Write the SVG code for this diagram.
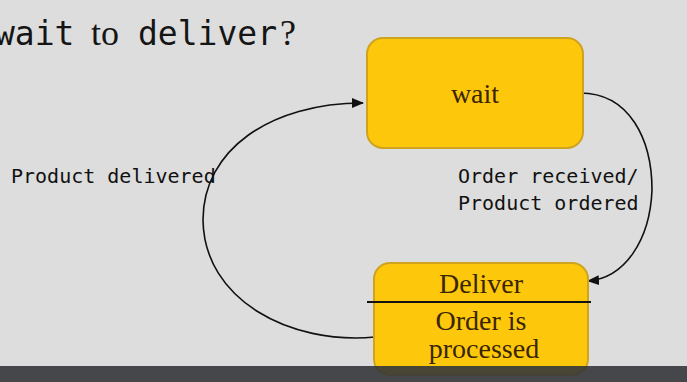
<svg xmlns="http://www.w3.org/2000/svg" width="687" height="382" viewBox="0 0 687 382">
<style>
.box{fill:#fdc80c;stroke:#cfa31e;stroke-width:2}
.st{font-family:"Liberation Serif",serif;font-size:28px;fill:#3a2500;text-anchor:middle}
.mono{font-family:"DejaVu Sans Mono","Liberation Mono",monospace;font-size:20px;fill:#111}
.ttl{font-family:"DejaVu Sans Mono","Liberation Mono",monospace;font-size:33px;fill:#151515}
.ttls{font-family:"Liberation Serif",serif;font-size:36px;fill:#151515}
.conn{fill:none;stroke:#111;stroke-width:1.6}
</style>
<defs>
<marker id="ah" viewBox="0 0 12 10" refX="11" refY="5" markerWidth="12" markerHeight="10" markerUnits="userSpaceOnUse" orient="auto">
<path d="M0,0 L12,5 L0,10 Z" fill="#111"/>
</marker>
</defs>
<rect width="687" height="382" fill="#dddddd"/>
<g id="title">
<text class="ttl" x="-5" y="45">wait</text>
<text class="ttls" x="91" y="45">to</text>
<text class="ttl" x="138" y="45">deliver</text>
<text class="ttls" x="280" y="45">?</text>
</g>
<g id="connectors">
<path class="conn" d="M375,337 C290,345 204,300 203,220 C203,150 270,103 363,103" marker-end="url(#ah)"/>
<path class="conn" d="M580,93 C630,93 652,140 652,190 C650,240 625,278 588,281" marker-end="url(#ah)"/>
<text class="mono" x="11" y="183">Product delivered</text>
<text class="mono" x="458" y="183">Order received/</text>
<text class="mono" x="458" y="210">Product ordered</text>
</g>
<g id="wait">
<rect class="box" x="367" y="38" width="216" height="110" rx="16"/>
<text class="st" x="475" y="103">wait</text>
</g>
<g id="deliver">
<rect class="box" x="374" y="263" width="214" height="112" rx="16"/>
<line x1="367" y1="302" x2="591" y2="302" stroke="#111" stroke-width="2"/>
<text class="st" x="481" y="293">Deliver</text>
<text class="st" x="481" y="330">Order is</text>
<text class="st" x="484" y="358">processed</text>
</g>
<rect x="0" y="366" width="687" height="16" fill="#35363a" opacity="0.9"/>
</svg>
